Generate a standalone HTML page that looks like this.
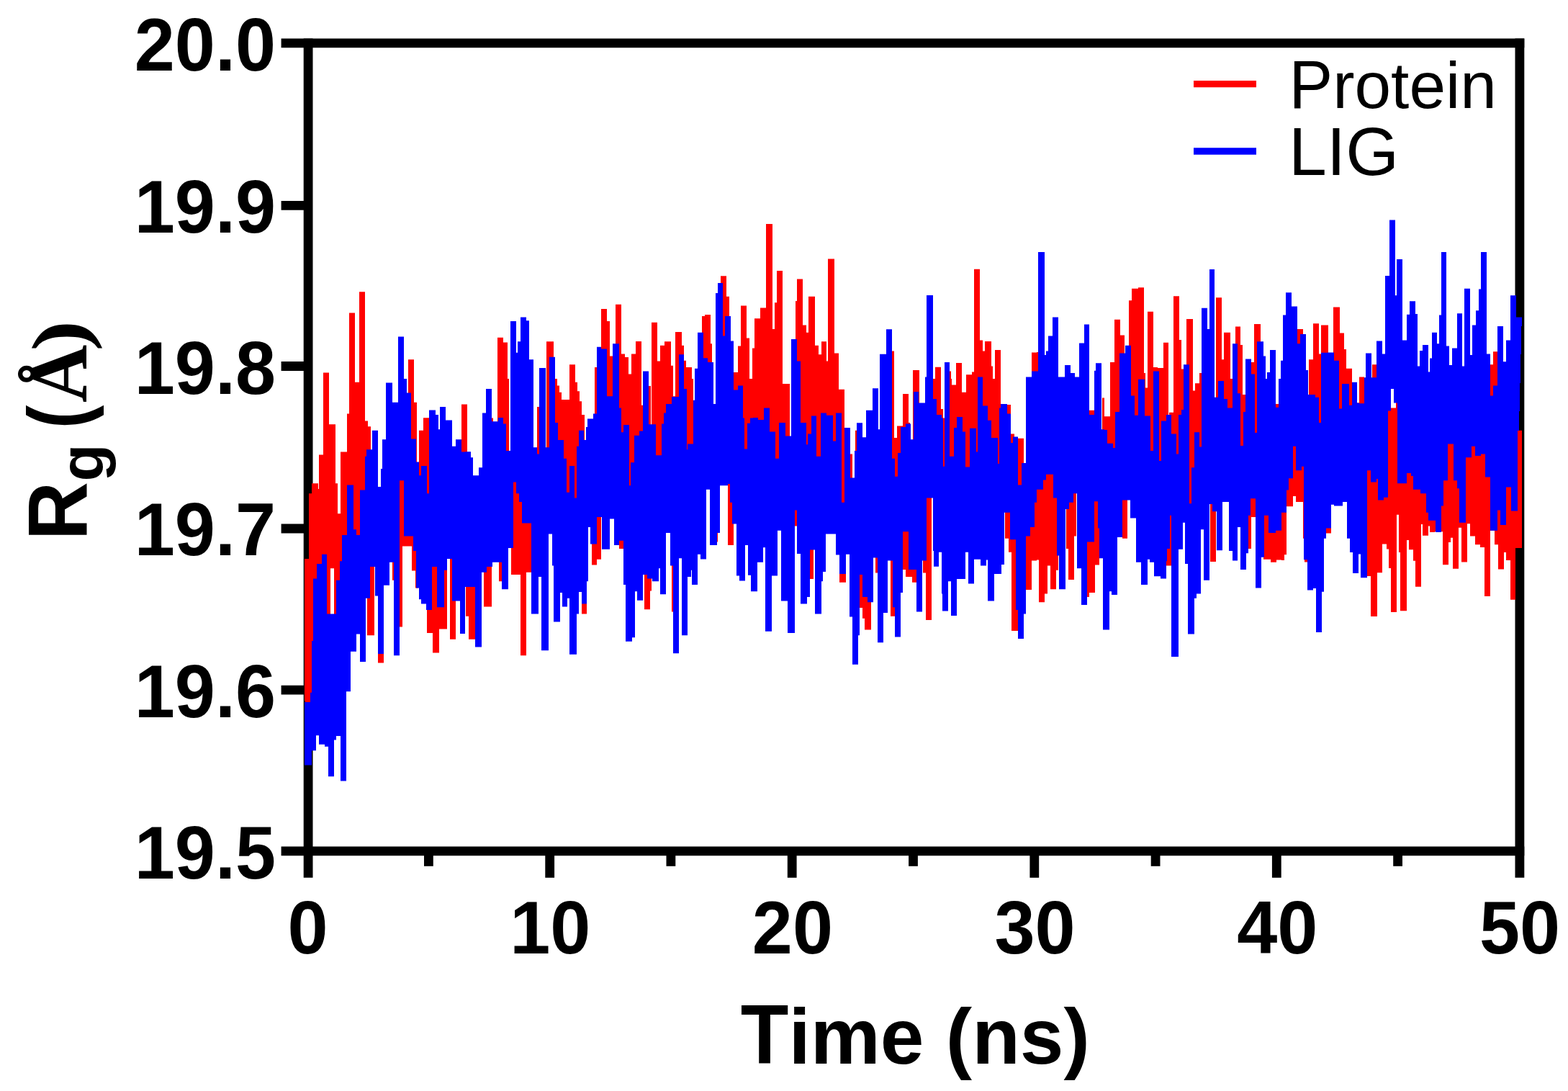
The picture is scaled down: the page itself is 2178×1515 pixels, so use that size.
<!DOCTYPE html>
<html lang="en">
<head>
<meta charset="utf-8">
<title>Rg (Å) / Time (ns)</title>
<style>
html,body{margin:0;padding:0;background:#fff;}
body{width:2178px;height:1515px;overflow:hidden;}
svg{display:block;}
text{font-family:"Liberation Sans",sans-serif;fill:#000;}
.tick{font-weight:bold;font-size:103px;}
.title{font-weight:bold;font-size:110px;}
.leg{font-size:91px;}
.leg2{font-size:95px;}
.ang{font-family:"Liberation Serif",serif;font-weight:bold;}
</style>
</head>
<body>
<svg width="2178" height="1515" viewBox="0 0 2178 1515">
<rect x="0" y="0" width="2178" height="1515" fill="#fff"/>

<g stroke="#000" stroke-width="12.8" fill="none" stroke-linecap="butt">
<line x1="390.6" y1="59.9" x2="2117.3" y2="59.9"/>
<line x1="390.6" y1="1181.8" x2="2117.3" y2="1181.8"/>
<line x1="428.1" y1="53.5" x2="428.1" y2="1218.8"/>
<line x1="2110.9" y1="53.5" x2="2110.9" y2="1218.8"/>
<line x1="390.6" y1="958.2" x2="428.1" y2="958.2"/>
<line x1="390.6" y1="734.0" x2="428.1" y2="734.0"/>
<line x1="390.6" y1="508.5" x2="428.1" y2="508.5"/>
<line x1="390.6" y1="285.3" x2="428.1" y2="285.3"/>
<line x1="763.7" y1="1181.8" x2="763.7" y2="1218.8"/>
<line x1="1100.2" y1="1181.8" x2="1100.2" y2="1218.8"/>
<line x1="1436.8" y1="1181.8" x2="1436.8" y2="1218.8"/>
<line x1="1773.3" y1="1181.8" x2="1773.3" y2="1218.8"/>
<line x1="595.4" y1="1181.8" x2="595.4" y2="1202.8"/>
<line x1="931.9" y1="1181.8" x2="931.9" y2="1202.8"/>
<line x1="1268.5" y1="1181.8" x2="1268.5" y2="1202.8"/>
<line x1="1605.1" y1="1181.8" x2="1605.1" y2="1202.8"/>
<line x1="1941.6" y1="1181.8" x2="1941.6" y2="1202.8"/>
</g>
<text class="tick" transform="translate(383.0,98.0) scale(0.979,1)" text-anchor="end">20.0</text>
<text class="tick" transform="translate(383.0,322.5) scale(0.979,1)" text-anchor="end">19.9</text>
<text class="tick" transform="translate(383.0,547.0) scale(0.979,1)" text-anchor="end">19.8</text>
<text class="tick" transform="translate(383.0,771.4) scale(0.979,1)" text-anchor="end">19.7</text>
<text class="tick" transform="translate(383.0,995.9) scale(0.979,1)" text-anchor="end">19.6</text>
<text class="tick" transform="translate(383.0,1220.4) scale(0.979,1)" text-anchor="end">19.5</text>
<text class="tick" transform="translate(427.5,1323.8) scale(0.979,1)" text-anchor="middle">0</text>
<text class="tick" transform="translate(764.2,1323.8) scale(0.979,1)" text-anchor="middle">10</text>
<text class="tick" transform="translate(1100.9,1323.8) scale(0.979,1)" text-anchor="middle">20</text>
<text class="tick" transform="translate(1437.6,1323.8) scale(0.979,1)" text-anchor="middle">30</text>
<text class="tick" transform="translate(1774.3,1323.8) scale(0.979,1)" text-anchor="middle">40</text>
<text class="tick" transform="translate(2111.0,1323.8) scale(0.979,1)" text-anchor="middle">50</text>
<text class="title" transform="translate(1271.3,1477) scale(0.992,1)" text-anchor="middle"><tspan font-size="116.5" textLength="67.2" lengthAdjust="spacingAndGlyphs">T</tspan>ime (ns)</text>
<text id="ytitle" class="title" transform="rotate(-90)"><tspan font-size="117.19" x="-750.25" y="120.95" textLength="81.38" lengthAdjust="spacingAndGlyphs">R</tspan><tspan font-size="85.0" x="-668.55" y="143.0" textLength="51.8" lengthAdjust="spacingAndGlyphs">g</tspan><tspan> </tspan><tspan font-size="114.1" x="-595.1" y="120.2" textLength="32.24" lengthAdjust="spacingAndGlyphs">(</tspan><tspan class="ang" font-size="114.35" x="-559.0" y="120.2" textLength="80.25" lengthAdjust="spacingAndGlyphs">Å</tspan><tspan class="ang" font-size="107.11" x="-487.45" y="118.7" textLength="42.52" lengthAdjust="spacingAndGlyphs">)</tspan></text>
<g id="traces">
<path d="M423 776 L429 776 L429 685.2 L433 685.2 L433 671.2 L442 671.2 L442 679 L443 679 L443 631.4 L449 631.4 L449 517.6 L457 517.6 L457 589.2 L466 589.2 L466 671.2 L469 671.2 L469 713.3 L473 713.3 L473 627.5 L482 627.5 L482 574.4 L485 574.4 L485 434.4 L493 434.4 L493 530.7 L499 530.7 L499 405.2 L507 405.2 L507 584.5 L511 584.5 L511 592.3 L515 592.3 L515 705.7 L517 705.7 L517 692.4 L520 692.4 L520 882.2 L510 882.2 L510 727.5 L509 727.5 L509 732.2 L508 732.2 L508 776.3 L507 776.3 L507 799.7 L500 799.7 L500 811.8 L495 811.8 L495 820 L491 820 L491 789.2 L487 789.2 L487 816.9 L482 816.9 L482 851.6 L481 851.6 L481 913.7 L475 913.7 L475 931.8 L473 931.8 L473 900.6 L472 900.6 L472 913.8 L467 913.8 L467 940 L464 940 L464 789.3 L459 789.3 L459 965.3 L456 965.3 L456 944.7 L454 944.7 L454 903.3 L451 903.3 L451 901.7 L447 901.7 L447 908.4 L443 908.4 L443 902.1 L440 902.1 L440 912.3 L439 912.3 L439 922.8 L435 922.8 L435 966.1 L433 966.1 L433 1012.2 L431 1012.2 L431 975.1 L424 975.1 L424 973.6 L423 973.6ZM525 791.9 L529 791.9 L529 779.4 L531 779.4 L531 759.1 L533 759.1 L533 920.4 L525 920.4ZM545 669.8 L547 669.8 L547 805.7 L545 805.7ZM555 567.4 L561 567.4 L561 635.3 L565 635.3 L565 645 L567 645 L567 499.2 L575 499.2 L575 558.8 L579 558.8 L579 729.1 L581 729.1 L581 816.6 L577 816.6 L577 792.4 L572 792.4 L572 758.6 L559 758.6 L559 870.5 L555 870.5ZM582 597.8 L588 597.8 L588 580.3 L596 580.3 L596 708.2 L600 708.2 L600 678.2 L605 678.2 L605 681.5 L607 681.5 L607 709.6 L609 709.6 L609 719.7 L611 719.7 L611 704.1 L617 704.1 L617 678.3 L619 678.3 L619 687.6 L621 687.6 L621 873.6 L610 873.6 L610 906.4 L601 906.4 L601 879.1 L593 879.1 L593 747 L592 747 L592 742.7 L585 742.7 L585 746.2 L582 746.2ZM625 679.7 L628 679.7 L628 727.1 L633 727.1 L633 887.7 L625 887.7ZM641 561.6 L649 561.6 L649 721.1 L654 721.1 L654 725.2 L657 725.2 L657 737.7 L660 737.7 L660 887.7 L651 887.7 L651 855.7 L647 855.7 L647 721.1 L646 721.1 L646 753.7 L641 753.7ZM672 684.2 L675 684.2 L675 667.4 L676 667.4 L676 663.5 L683 663.5 L683 580.6 L685 580.6 L685 683 L684 683 L684 686.1 L683 686.1 L683 842.4 L672 842.4ZM691 468.7 L699 468.7 L699 475.5 L705 475.5 L705 526 L707 526 L707 693.4 L706 693.4 L706 722.1 L703 722.1 L703 703.3 L699 703.3 L699 699 L697 699 L697 807.3 L693 807.3 L693 680.3 L692 680.3 L692 683 L691 683ZM710 603.5 L713 603.5 L713 557.9 L717 557.9 L717 587.5 L719 587.5 L719 579.7 L721 579.7 L721 585.6 L723 585.6 L723 568.8 L725 568.8 L725 583.6 L731 583.6 L731 586 L735 586 L735 612.9 L738 612.9 L738 794.8 L731 794.8 L731 910.3 L723 910.3 L723 797.9 L710 797.9ZM746 565 L749 565 L749 715.8 L748 715.8 L748 741.6 L746 741.6ZM759 474.2 L769 474.2 L769 526 L774 526 L774 535.4 L777 535.4 L777 544.7 L780 544.7 L780 554.9 L791 554.9 L791 506.2 L799 506.2 L799 530.7 L802 530.7 L802 543.2 L805 543.2 L805 557.2 L808 557.2 L808 576 L812 576 L812 724.8 L814 724.8 L814 715.8 L815 715.8 L815 852.5 L808 852.5 L808 710 L804 710 L804 736.1 L801 736.1 L801 800.1 L798 800.1 L798 777.9 L791 777.9 L791 757.2 L788 757.2 L788 763 L787 763 L787 739.6 L783 739.6 L783 726.7 L781 726.7 L781 717 L778 717 L778 737.3 L775 737.3 L775 725.2 L771 725.2 L771 679.6 L769 679.6 L769 640.6 L767 640.6 L767 618.6 L763 618.6 L763 681.3 L762 681.3 L762 762.3 L759 762.3ZM822 668.4 L824 668.4 L824 664.9 L826 664.9 L826 510.1 L829 510.1 L829 599.9 L835 599.9 L835 428.9 L843 428.9 L843 446.1 L847 446.1 L847 494.5 L851 494.5 L851 635.3 L847 635.3 L847 656.5 L843 656.5 L843 623.6 L836 623.6 L836 601.2 L835 601.2 L835 776.8 L829 776.8 L829 784.6 L822 784.6ZM855 422.7 L863 422.7 L863 491.4 L868 491.4 L868 496.1 L873 496.1 L873 519.5 L877 519.5 L877 491.4 L883 491.4 L883 473.9 L891 473.9 L891 562.7 L893 562.7 L893 716.2 L888 716.2 L888 719.3 L885 719.3 L885 713.1 L882 713.1 L882 745.1 L881 745.1 L881 763.8 L878 763.8 L878 766.5 L876 766.5 L876 782.5 L874 782.5 L874 740.4 L869 740.4 L869 701 L866 701 L866 762 L860 762 L860 617.2 L855 617.2ZM895 656.7 L899 656.7 L899 659.5 L901 659.5 L901 536.1 L904 536.1 L904 696.3 L905 696.3 L905 447.7 L913 447.7 L913 501.5 L917 501.5 L917 479.7 L923 479.7 L923 474.2 L932 474.2 L932 507.8 L935 507.8 L935 550.2 L938 550.2 L938 460.9 L947 460.9 L947 479.7 L950 479.7 L950 500.7 L953 500.7 L953 510.1 L961 510.1 L961 526 L963 526 L963 714.2 L961 714.2 L961 704.1 L960 704.1 L960 708.8 L955 708.8 L955 753.3 L954 753.3 L954 711.1 L950 711.1 L950 687.2 L947 687.2 L947 633.7 L943 633.7 L943 729.1 L935 729.1 L935 849.4 L933 849.4 L933 673.3 L931 673.3 L931 650.5 L925 650.5 L925 699.4 L922 699.4 L922 706.8 L919 706.8 L919 728.7 L917 728.7 L917 710.7 L915 710.7 L915 719.7 L911 719.7 L911 698.2 L906 698.2 L906 696.3 L905 696.3 L905 820.5 L903 820.5 L903 846.3 L895 846.3ZM975 439.1 L979 439.1 L979 437.1 L987 437.1 L987 477.3 L989 477.3 L989 630.1 L986 630.1 L986 591.4 L983 591.4 L983 588.5 L981 588.5 L981 636.8 L977 636.8 L977 619 L975 619ZM995 582.1 L996 582.1 L996 573.5 L997 573.5 L997 752.4 L995 752.4ZM1001 383.2 L1009 383.2 L1009 411.8 L1013 411.8 L1013 555.5 L1014 555.5 L1014 568.4 L1015 568.4 L1015 585.6 L1017 585.6 L1017 600.4 L1019 600.4 L1019 517.1 L1025 517.1 L1025 480.4 L1029 480.4 L1029 424.6 L1037 424.6 L1037 469.5 L1041 469.5 L1041 526 L1045 526 L1045 483.6 L1048 483.6 L1048 442.2 L1056 442.2 L1056 427.4 L1064 427.4 L1064 311.1 L1073 311.1 L1073 457 L1076 457 L1076 420.3 L1079 420.3 L1079 375.9 L1087 375.9 L1087 533 L1097 533 L1097 742.3 L1094 742.3 L1094 720.1 L1091 720.1 L1091 710.7 L1085 710.7 L1085 661.8 L1082 661.8 L1082 686.8 L1080 686.8 L1080 718.2 L1077 718.2 L1077 699.4 L1072 699.4 L1072 738.1 L1069 738.1 L1069 721.7 L1063 721.7 L1063 663.4 L1061 663.4 L1061 671.6 L1060 671.6 L1060 681.9 L1053 681.9 L1053 680.3 L1052 680.3 L1052 700.6 L1046 700.6 L1046 701 L1043 701 L1043 689.7 L1042 689.7 L1042 693.2 L1039 693.2 L1039 672.3 L1038 672.3 L1038 690.3 L1035 690.3 L1035 715 L1034 715 L1034 693.6 L1032 693.6 L1032 670.9 L1027 670.9 L1027 667.4 L1025 667.4 L1025 670.5 L1023 670.5 L1023 634.5 L1019 634.5 L1019 757 L1011 757 L1011 556.7 L1007 556.7 L1007 570.4 L1004 570.4 L1004 533.7 L1001 533.7ZM1104 589.9 L1105 589.9 L1105 418 L1107 418 L1107 387.6 L1115 387.6 L1115 451.6 L1120 451.6 L1120 461.7 L1123 461.7 L1123 411.8 L1132 411.8 L1132 479.7 L1137 479.7 L1137 492.2 L1141 492.2 L1141 474.2 L1148 474.2 L1148 501.5 L1150 501.5 L1150 359.5 L1159 359.5 L1159 490.6 L1165 490.6 L1165 540.8 L1173 540.8 L1173 695.5 L1175 695.5 L1175 808.8 L1166 808.8 L1166 672.1 L1161 672.1 L1161 677 L1157 677 L1157 659.1 L1148 659.1 L1148 657.5 L1147 657.5 L1147 683.8 L1143 683.8 L1143 690.4 L1141 690.4 L1141 713.1 L1140 713.1 L1140 743.1 L1134 743.1 L1134 715 L1132 715 L1132 670.5 L1130 670.5 L1130 804.1 L1125 804.1 L1125 715.8 L1122 715.8 L1122 723.2 L1121 723.2 L1121 727.9 L1120 727.9 L1120 712.7 L1112 712.7 L1112 635.3 L1107 635.3 L1107 730.5 L1104 730.5ZM1181 630.6 L1184 630.6 L1184 759.9 L1181 759.9ZM1188 597.8 L1190 597.8 L1190 774.3 L1188 774.3ZM1194 692.5 L1198 692.5 L1198 718.2 L1203 718.2 L1203 699.4 L1205 699.4 L1205 702.9 L1210 702.9 L1210 874.4 L1201 874.4 L1201 858.8 L1198 858.8 L1198 844 L1194 844ZM1216 656.9 L1219 656.9 L1219 795.6 L1216 795.6ZM1237 617.9 L1239 617.9 L1239 487.5 L1242 487.5 L1242 608 L1246 608 L1246 591.6 L1254 591.6 L1254 547.1 L1262 547.1 L1262 586.9 L1264 586.9 L1264 689.7 L1265 689.7 L1265 700.6 L1268 700.6 L1268 514 L1277 514 L1277 704.5 L1276 704.5 L1276 696.7 L1273 696.7 L1273 808.8 L1267 808.8 L1267 801 L1258 801 L1258 790.9 L1254 790.9 L1254 708 L1251 708 L1251 756.8 L1247 756.8 L1247 773.2 L1243 773.2 L1243 855.7 L1237 855.7ZM1282 669 L1285 669 L1285 650.9 L1287 650.9 L1287 550.7 L1294 550.7 L1294 861.1 L1286 861.1 L1286 795.6 L1282 795.6ZM1296 526 L1299 526 L1299 509.8 L1307 509.8 L1307 568.1 L1310 568.1 L1310 580.6 L1312 580.6 L1312 748.2 L1310 748.2 L1310 714.6 L1309 714.6 L1309 702.5 L1308 702.5 L1308 671.3 L1304 671.3 L1304 681.3 L1301 681.3 L1301 670.4 L1297 670.4 L1297 659.6 L1296 659.6ZM1319 515.6 L1321 515.6 L1321 526 L1322 526 L1322 534.6 L1328 534.6 L1328 503.9 L1336 503.9 L1336 544.7 L1342 544.7 L1342 520.3 L1350 520.3 L1350 516.4 L1353 516.4 L1353 373.8 L1361 373.8 L1361 472.6 L1365 472.6 L1365 487.5 L1368 487.5 L1368 473.9 L1377 473.9 L1377 508.5 L1379 508.5 L1379 526 L1382 526 L1382 485.9 L1390 485.9 L1390 681.9 L1388 681.9 L1388 720.5 L1386 720.5 L1386 702.5 L1381 702.5 L1381 721.3 L1377 721.3 L1377 709.2 L1372 709.2 L1372 670.5 L1370 670.5 L1370 674.4 L1365 674.4 L1365 654.4 L1362 654.4 L1362 650.1 L1358 650.1 L1358 702.1 L1356 702.1 L1356 685.8 L1353 685.8 L1353 702.5 L1347 702.5 L1347 729.5 L1345 729.5 L1345 707.6 L1341 707.6 L1341 701.8 L1337 701.8 L1337 691.6 L1329 691.6 L1329 724.4 L1325 724.4 L1325 744.3 L1321 744.3 L1321 720.5 L1319 720.5ZM1396 636.4 L1398 636.4 L1398 561.9 L1404 561.9 L1404 602.5 L1409 602.5 L1409 677.8 L1411 677.8 L1411 726.7 L1414 726.7 L1414 608.7 L1422 608.7 L1422 765 L1419 765 L1419 780.2 L1414 780.2 L1414 876 L1405 876 L1405 766.7 L1401 766.7 L1401 747.7 L1396 747.7ZM1425 634 L1431 634 L1431 627.7 L1433 627.7 L1433 489.5 L1440 489.5 L1440 489 L1442 489 L1442 514.9 L1449 514.9 L1449 508.3 L1451 508.3 L1451 579.7 L1453 579.7 L1453 573.1 L1456 573.1 L1456 562.5 L1462 562.5 L1462 549.7 L1463 549.7 L1463 566.1 L1468 566.1 L1468 606 L1470 606 L1470 791.7 L1467 791.7 L1467 818.2 L1459 818.2 L1459 785.4 L1455 785.4 L1455 824.4 L1451 824.4 L1451 836.2 L1443 836.2 L1443 777.6 L1440 777.6 L1440 778.4 L1433 778.4 L1433 819 L1425 819ZM1481 607 L1485 607 L1485 602.4 L1487 602.4 L1487 607.8 L1491 607.8 L1491 601.6 L1493 601.6 L1493 604.3 L1495 604.3 L1495 744.5 L1492 744.5 L1492 804.9 L1484 804.9 L1484 762 L1481 762ZM1510 601.4 L1513 601.4 L1513 569.7 L1520 569.7 L1520 605.5 L1522 605.5 L1522 600.2 L1525 600.2 L1525 618.9 L1527 618.9 L1527 784.6 L1521 784.6 L1521 822.9 L1513 822.9 L1513 829.1 L1510 829.1ZM1531 552.5 L1534 552.5 L1534 578.3 L1542 578.3 L1542 503.1 L1548 503.1 L1548 443.8 L1556 443.8 L1556 465.6 L1562 465.6 L1562 592.6 L1563 592.6 L1563 587.1 L1566 587.1 L1566 747.7 L1559 747.7 L1559 618.4 L1555 618.4 L1555 659.1 L1552 659.1 L1552 699 L1549 699 L1549 724 L1546 724 L1546 720.9 L1544 720.9 L1544 718.5 L1541 718.5 L1541 745.1 L1538 745.1 L1538 735.7 L1534 735.7 L1534 735.3 L1532 735.3 L1532 685.8 L1531 685.8ZM1568 417.2 L1572 417.2 L1572 400.8 L1581 400.8 L1581 399.3 L1589 399.3 L1589 517.9 L1591 517.9 L1591 538.5 L1594 538.5 L1594 432.8 L1602 432.8 L1602 510.1 L1608 510.1 L1608 510.9 L1616 510.9 L1616 475.8 L1623 475.8 L1623 669 L1624 669 L1624 572.8 L1630 572.8 L1630 411.3 L1638 411.3 L1638 471.9 L1641 471.9 L1641 512.5 L1644 512.5 L1644 647.4 L1643 647.4 L1643 665.9 L1641 665.9 L1641 669.4 L1637 669.4 L1637 771.2 L1634 771.2 L1634 757.2 L1627 757.2 L1627 785.4 L1620 785.4 L1620 694 L1613 694 L1613 721.7 L1612 721.7 L1612 720.1 L1610 720.1 L1610 657.9 L1603 657.9 L1603 648.2 L1602 648.2 L1602 703.3 L1598 703.3 L1598 679.1 L1597 679.1 L1597 677.2 L1594 677.2 L1594 694.7 L1590 694.7 L1590 669.4 L1585 669.4 L1585 653.8 L1581 653.8 L1581 678.7 L1578 678.7 L1578 648.2 L1576 648.2 L1576 634.5 L1571 634.5 L1571 599.6 L1570 599.6 L1570 587.1 L1568 587.1ZM1648 443 L1657 443 L1657 542.4 L1660 542.4 L1660 532.2 L1666 532.2 L1666 517.9 L1669 517.9 L1669 677.8 L1668 677.8 L1668 722.4 L1666 722.4 L1666 712.3 L1662 712.3 L1662 715.4 L1659 715.4 L1659 765 L1655 765 L1655 790 L1652 790 L1652 693.4 L1650 693.4 L1650 644.6 L1648 644.6ZM1677 457 L1680 457 L1680 631.4 L1677 631.4ZM1681 537 L1684 537 L1684 542.1 L1687 542.1 L1687 631 L1689 631 L1689 413.3 L1697 413.3 L1697 499.2 L1700 499.2 L1700 461.7 L1709 461.7 L1709 526 L1712 526 L1712 665.9 L1707 665.9 L1707 631.8 L1705 631.8 L1705 625.5 L1700 625.5 L1700 613 L1698 613 L1698 646.7 L1692 646.7 L1692 658 L1690 658 L1690 631 L1689 631 L1689 780 L1681 780ZM1716 453.6 L1723 453.6 L1723 478.9 L1726 478.9 L1726 547.9 L1730 547.9 L1730 681.5 L1727 681.5 L1727 704.9 L1723 704.9 L1723 639.2 L1719 639.2 L1719 627.9 L1716 627.9ZM1734 607 L1737 607 L1737 595.3 L1738 595.3 L1738 503.1 L1742 503.1 L1742 450 L1751 450 L1751 645.4 L1746 645.4 L1746 708.8 L1744 708.8 L1744 718 L1738 718 L1738 762 L1734 762ZM1755 634.1 L1756 634.1 L1756 605.1 L1758 605.1 L1758 620.8 L1760 620.8 L1760 616.4 L1762 616.4 L1762 628.5 L1764 628.5 L1764 612.9 L1772 612.9 L1772 561.1 L1776 561.1 L1776 631.4 L1779 631.4 L1779 618.7 L1780 618.7 L1780 606.3 L1782 606.3 L1782 574.6 L1786 574.6 L1786 559 L1787 559 L1787 543.4 L1790 543.4 L1790 535.2 L1794 535.2 L1794 544.8 L1796 544.8 L1796 522.6 L1800 522.6 L1800 539.4 L1802 539.4 L1802 457 L1810 457 L1810 555.9 L1811 555.9 L1811 620.7 L1814 620.7 L1814 645.6 L1816 645.6 L1816 780.4 L1812 780.4 L1812 747.7 L1810 747.7 L1810 696.9 L1800 696.9 L1800 689.1 L1796 689.1 L1796 703.2 L1787 703.2 L1787 770.2 L1784 770.2 L1784 778.1 L1780 778.1 L1780 777.6 L1773 777.6 L1773 780.7 L1765 780.7 L1765 776.8 L1755 776.8ZM1818 499.2 L1824 499.2 L1824 449.2 L1832 449.2 L1832 491.4 L1835 491.4 L1835 451.6 L1845 451.6 L1845 611.6 L1849 611.6 L1849 740.6 L1842 740.6 L1842 618.7 L1839 618.7 L1839 655.8 L1836 655.8 L1836 683.9 L1835 683.9 L1835 732.4 L1832 732.4 L1832 714.9 L1828 714.9 L1828 684.4 L1827 684.4 L1827 682.5 L1824 682.5 L1824 683.6 L1818 683.6ZM1852 426.6 L1861 426.6 L1861 462.5 L1867 462.5 L1867 485.1 L1870 485.1 L1870 511.7 L1878 511.7 L1878 664.9 L1875 664.9 L1875 655.2 L1874 655.2 L1874 640.3 L1871 640.3 L1871 615 L1865 615 L1865 617.7 L1864 617.7 L1864 634.9 L1860 634.9 L1860 601.6 L1853 601.6 L1853 595.2 L1852 595.2ZM1885 559.6 L1888 559.6 L1888 523.4 L1895 523.4 L1895 681.3 L1890 681.3 L1890 664.9 L1888 664.9 L1888 664.5 L1887 664.5 L1887 677.8 L1885 677.8ZM1899 571.9 L1904 571.9 L1904 580.1 L1905 580.1 L1905 596.9 L1906 596.9 L1906 506.2 L1912 506.2 L1912 569.2 L1914 569.2 L1914 584 L1920 584 L1920 593 L1922 593 L1922 591 L1924 591 L1924 536.8 L1928 536.8 L1928 476.7 L1930 476.7 L1930 566.6 L1939 566.6 L1939 484.9 L1940 484.9 L1940 459.7 L1941 459.7 L1941 515.6 L1948 515.6 L1948 571.9 L1954 571.9 L1954 546.9 L1958 546.9 L1958 537.7 L1960 537.7 L1960 539.7 L1963 539.7 L1963 549 L1966 549 L1966 557.9 L1969 557.9 L1969 510.9 L1972 510.9 L1972 583.4 L1973 583.4 L1973 586.1 L1976 586.1 L1976 582.1 L1981 582.1 L1981 595.3 L1984 595.3 L1984 619.5 L1986 619.5 L1986 610.2 L1989 610.2 L1989 592.2 L1994 592.2 L1994 600.4 L1996 600.4 L1996 608.2 L1999 608.2 L1999 588.3 L2002 588.3 L2002 526.3 L2005 526.3 L2005 508.7 L2009 508.7 L2009 573.9 L2011 573.9 L2011 548.5 L2013 548.5 L2013 561.8 L2017 561.8 L2017 550.1 L2019 550.1 L2019 575.4 L2024 575.4 L2024 556.7 L2027 556.7 L2027 580.5 L2031 580.5 L2031 510.1 L2034 510.1 L2034 563.3 L2036 563.3 L2036 518.1 L2042 518.1 L2042 564.1 L2044 564.1 L2044 556.3 L2045 556.3 L2045 535.6 L2049 535.6 L2049 542.3 L2050 542.3 L2050 532.1 L2054 532.1 L2054 517.3 L2057 517.3 L2057 490.3 L2063 490.3 L2063 506.3 L2065 506.3 L2065 577 L2070 577 L2070 506.2 L2074 506.2 L2074 488.3 L2080 488.3 L2080 580.9 L2084 580.9 L2084 591 L2088 591 L2088 615.6 L2092 615.6 L2092 574.6 L2098 574.6 L2098 543.4 L2099 543.4 L2099 559.8 L2106 559.8 L2106 575 L2108 575 L2108 597.8 L2114 597.8 L2114 760.9 L2105 760.9 L2105 832.7 L2098 832.7 L2098 778.1 L2092 778.1 L2092 767.1 L2089 767.1 L2089 790.5 L2081 790.5 L2081 756.2 L2076 756.2 L2076 736.7 L2070 736.7 L2070 828 L2062 828 L2062 760.1 L2056 760.1 L2056 756.2 L2049 756.2 L2049 744.5 L2042 744.5 L2042 727.3 L2038 727.3 L2038 780.4 L2030 780.4 L2030 732.8 L2026 732.8 L2026 789.8 L2018 789.8 L2018 746.8 L2015 746.8 L2015 753.1 L2012 753.1 L2012 784.3 L2004 784.3 L2004 738.2 L1993 738.2 L1993 739 L1986 739 L1986 730.4 L1984 730.4 L1984 743.7 L1976 743.7 L1976 728.1 L1974 728.1 L1974 814.7 L1966 814.7 L1966 778.8 L1963 778.8 L1963 763.2 L1957 763.2 L1957 750 L1954 750 L1954 848.3 L1945 848.3 L1945 767.1 L1943 767.1 L1943 714.8 L1940 714.8 L1940 849.9 L1932 849.9 L1932 789 L1929 789 L1929 762.4 L1926 762.4 L1926 755.4 L1920 755.4 L1920 795.2 L1913 795.2 L1913 856.1 L1904 856.1 L1904 799.9 L1899 799.9Z" fill="#ff0000"/>
<path d="M423 975.1 L431 975.1 L431 961.8 L433 961.8 L433 890 L435 890 L435 803.4 L440 803.4 L440 783.1 L447 783.1 L447 769.8 L454 769.8 L454 852.5 L467 852.5 L467 805.7 L472 805.7 L472 779.2 L475 779.2 L475 743 L482 743 L482 673.5 L491 673.5 L491 735.2 L495 735.2 L495 743 L500 743 L500 680.5 L507 680.5 L507 633.7 L509 633.7 L509 624.3 L517 624.3 L517 597.8 L525 597.8 L525 675.9 L529 675.9 L529 650.9 L531 650.9 L531 610.3 L536 610.3 L536 531.5 L545 531.5 L545 558.8 L553 558.8 L553 467.5 L561 467.5 L561 526 L565 526 L565 545.5 L571 545.5 L571 609.5 L578 609.5 L578 641.5 L582 641.5 L582 660.3 L585 660.3 L585 647 L593 647 L593 685.2 L596 685.2 L596 569.4 L605 569.4 L605 576 L609 576 L609 596.2 L611 596.2 L611 565 L619 565 L619 583.4 L628 583.4 L628 619.7 L633 619.7 L633 610.3 L641 610.3 L641 627.5 L646 627.5 L646 627.2 L654 627.2 L654 635.3 L657 635.3 L657 660.3 L665 660.3 L665 649.3 L670 649.3 L670 573.6 L675 573.6 L675 540 L683 540 L683 585.3 L692 585.3 L692 579.9 L699 579.9 L699 588.4 L703 588.4 L703 625.9 L709 625.9 L709 446.1 L717 446.1 L717 489.8 L719 489.8 L719 474.2 L723 474.2 L723 440.6 L731 440.6 L731 445.3 L735 445.3 L735 499.2 L741 499.2 L741 621.2 L746 621.2 L746 630.6 L749 630.6 L749 510.9 L758 510.9 L758 621.2 L763 621.2 L763 495.7 L771 495.7 L771 586.9 L775 586.9 L775 611.1 L783 611.1 L783 636.8 L787 636.8 L787 683.7 L791 683.7 L791 647 L798 647 L798 691.5 L801 691.5 L801 619.7 L804 619.7 L804 597.8 L811 597.8 L811 611.1 L814 611.1 L814 593.1 L816 593.1 L816 581.4 L824 581.4 L824 574.4 L829 574.4 L829 481.7 L835 481.7 L835 484.4 L843 484.4 L843 550.2 L851 550.2 L851 477.3 L860 477.3 L860 566.6 L863 566.6 L863 600.2 L866 600.2 L866 590 L874 590 L874 674.3 L876 674.3 L876 642.3 L881 642.3 L881 604.8 L888 604.8 L888 598.6 L893 598.6 L893 515.6 L901 515.6 L901 589.2 L911 589.2 L911 632.2 L919 632.2 L919 588.4 L922 588.4 L922 573.6 L925 573.6 L925 561.1 L933 561.1 L933 551 L943 551 L943 492.2 L950 492.2 L950 540 L954 540 L954 624.3 L955 624.3 L955 616.5 L963 616.5 L963 555.7 L965 555.7 L965 511.7 L969 511.7 L969 461.7 L977 461.7 L977 497.3 L983 497.3 L983 503.1 L991 503.1 L991 561.1 L994 561.1 L994 407.1 L997 407.1 L997 393 L1004 393 L1004 466.4 L1007 466.4 L1007 439.1 L1015 439.1 L1015 473.4 L1019 473.4 L1019 541.6 L1025 541.6 L1025 535.4 L1032 535.4 L1032 580.6 L1034 580.6 L1034 623.6 L1038 623.6 L1038 587.7 L1042 587.7 L1042 580.6 L1046 580.6 L1046 579.9 L1053 579.9 L1053 583 L1061 583 L1061 566.6 L1069 566.6 L1069 599.4 L1077 599.4 L1077 636.8 L1082 636.8 L1082 586.9 L1091 586.9 L1091 605.6 L1099 605.6 L1099 471.1 L1107 471.1 L1107 501.5 L1112 501.5 L1112 586.9 L1120 586.9 L1120 617.3 L1122 617.3 L1122 602.5 L1127 602.5 L1127 577.5 L1134 577.5 L1134 633.7 L1140 633.7 L1140 573.6 L1148 573.6 L1148 576.7 L1157 576.7 L1157 612.6 L1161 612.6 L1161 573.6 L1169 573.6 L1169 697.7 L1173 697.7 L1173 593.9 L1181 593.9 L1181 663.4 L1187 663.4 L1187 625.9 L1190 625.9 L1190 587.2 L1198 587.2 L1198 607.2 L1203 607.2 L1203 569.7 L1212 569.7 L1212 539.3 L1220 539.3 L1220 596.2 L1222 596.2 L1222 491.8 L1231 491.8 L1231 457.3 L1239 457.3 L1239 636.8 L1243 636.8 L1243 661.8 L1247 661.8 L1247 629 L1251 629 L1251 593.1 L1258 593.1 L1258 588.4 L1265 588.4 L1265 610.3 L1269 610.3 L1269 544 L1276 544 L1276 559.6 L1285 559.6 L1285 523.4 L1287 523.4 L1287 409.9 L1296 409.9 L1296 554.1 L1301 554.1 L1301 576 L1308 576 L1308 580.6 L1310 580.6 L1310 647.8 L1312 647.8 L1312 503.1 L1319 503.1 L1319 633.7 L1325 633.7 L1325 593.9 L1329 593.9 L1329 579.1 L1337 579.1 L1337 599.4 L1341 599.4 L1341 648.5 L1347 648.5 L1347 594.7 L1356 594.7 L1356 627.5 L1358 627.5 L1358 523.4 L1365 523.4 L1365 563.5 L1372 563.5 L1372 583.8 L1377 583.8 L1377 608 L1386 608 L1386 643.9 L1388 643.9 L1388 566.6 L1390 566.6 L1390 561.1 L1399 561.1 L1399 574.4 L1404 574.4 L1404 615 L1407 615 L1407 606.4 L1414 606.4 L1414 673.5 L1419 673.5 L1419 643.1 L1425 643.1 L1425 523.4 L1433 523.4 L1433 515.6 L1442 515.6 L1442 350.1 L1451 350.1 L1451 492.9 L1453 492.9 L1453 487.5 L1456 487.5 L1456 466.4 L1462 466.4 L1462 440.6 L1470 440.6 L1470 523.4 L1479 523.4 L1479 507 L1487 507 L1487 517.9 L1493 517.9 L1493 523.4 L1499 523.4 L1499 476.5 L1506 476.5 L1506 450.5 L1513 450.5 L1513 576 L1520 576 L1520 514.8 L1522 514.8 L1522 504.2 L1530 504.2 L1530 596.2 L1534 596.2 L1534 597 L1538 597 L1538 615.8 L1546 615.8 L1546 622 L1549 622 L1549 572.1 L1555 572.1 L1555 490.6 L1563 490.6 L1563 479.7 L1571 479.7 L1571 549.4 L1576 549.4 L1576 576.7 L1581 576.7 L1581 526.8 L1590 526.8 L1590 577.5 L1598 577.5 L1598 625.9 L1602 625.9 L1602 515.6 L1610 515.6 L1610 640 L1613 640 L1613 584.5 L1620 584.5 L1620 576 L1627 576 L1627 602.5 L1634 602.5 L1634 630.6 L1637 630.6 L1637 576 L1641 576 L1641 568.9 L1644 568.9 L1644 506.2 L1652 506.2 L1652 699.3 L1655 699.3 L1655 649.3 L1659 649.3 L1659 600.2 L1666 600.2 L1666 620.4 L1669 620.4 L1669 427.7 L1677 427.7 L1677 457 L1680 457 L1680 374 L1687 374 L1687 551.8 L1692 551.8 L1692 529.1 L1700 529.1 L1700 554.1 L1705 554.1 L1705 566.6 L1712 566.6 L1712 477.3 L1719 477.3 L1719 546.3 L1723 546.3 L1723 618.9 L1727 618.9 L1727 572.1 L1730 572.1 L1730 498.4 L1738 498.4 L1738 519.5 L1743 519.5 L1743 600.9 L1746 600.9 L1746 474.2 L1755 474.2 L1755 494.5 L1758 494.5 L1758 526 L1760 526 L1760 517.1 L1764 517.1 L1764 485.9 L1772 485.9 L1772 565.8 L1776 565.8 L1776 526 L1779 526 L1779 500.7 L1782 500.7 L1782 437.5 L1786 437.5 L1786 406.3 L1794 406.3 L1794 425.5 L1802 425.5 L1802 477.3 L1806 477.3 L1806 464.1 L1814 464.1 L1814 514 L1817 514 L1817 547.9 L1827 547.9 L1827 551.8 L1832 551.8 L1832 586.9 L1835 586.9 L1835 489.8 L1844 489.8 L1844 489.5 L1853 489.5 L1853 500.7 L1860 500.7 L1860 567.4 L1864 567.4 L1864 533 L1874 533 L1874 562.7 L1878 562.7 L1878 530.7 L1885 530.7 L1885 559.6 L1888 559.6 L1888 560.3 L1895 560.3 L1895 524.2 L1897 524.2 L1897 490.6 L1905 490.6 L1905 524.2 L1912 524.2 L1912 473.4 L1920 473.4 L1920 491.4 L1924 491.4 L1924 382.9 L1930 382.9 L1930 305.6 L1938 305.6 L1938 410.2 L1940 410.2 L1940 359.9 L1948 359.9 L1948 472.6 L1954 472.6 L1954 436.7 L1958 436.7 L1958 418.3 L1966 418.3 L1966 436 L1969 436 L1969 508.5 L1972 508.5 L1972 487 L1976 487 L1976 478.9 L1984 478.9 L1984 516.4 L1986 516.4 L1986 497.6 L1989 497.6 L1989 461.7 L1996 461.7 L1996 477.3 L1999 477.3 L1999 437.5 L2002 437.5 L2002 350.1 L2009 350.1 L2009 480.4 L2013 480.4 L2013 507 L2017 507 L2017 483.6 L2024 483.6 L2024 435.2 L2031 435.2 L2031 508.5 L2034 508.5 L2034 400.8 L2042 400.8 L2042 492.9 L2045 492.9 L2045 451.6 L2050 451.6 L2050 431.3 L2054 431.3 L2054 401.6 L2057 401.6 L2057 350.1 L2065 350.1 L2065 491.4 L2070 491.4 L2070 549.4 L2074 549.4 L2074 535.4 L2080 535.4 L2080 453.1 L2088 453.1 L2088 502.3 L2092 502.3 L2092 472.6 L2098 472.6 L2098 410.2 L2106 410.2 L2106 440.6 L2114 440.6 L2114 453 L2113 453 L2113 492 L2112 492 L2112 531.9 L2111 531.9 L2111 571 L2110 571 L2110 598 L2108 598 L2108 709.4 L2099 709.4 L2099 676.6 L2092 676.6 L2092 728.9 L2084 728.9 L2084 708.6 L2080 708.6 L2080 736.7 L2070 736.7 L2070 662.6 L2063 662.6 L2063 630.6 L2057 630.6 L2057 632.9 L2049 632.9 L2049 619.7 L2044 619.7 L2044 635.3 L2036 635.3 L2036 725.8 L2027 725.8 L2027 678.2 L2024 678.2 L2024 667.3 L2019 667.3 L2019 616.5 L2011 616.5 L2011 667.3 L2005 667.3 L2005 702.4 L2002 702.4 L2002 739.1 L1994 739.1 L1994 722.7 L1984 722.7 L1984 711.8 L1981 711.8 L1981 685.2 L1973 685.2 L1973 679.8 L1963 679.8 L1963 661 L1960 661 L1960 657.1 L1954 657.1 L1954 671.2 L1941 671.2 L1941 559.6 L1936 559.6 L1936 540 L1932 540 L1932 570.5 L1928 570.5 L1928 690.7 L1922 690.7 L1922 694.6 L1914 694.6 L1914 664.9 L1912 664.9 L1912 669.6 L1904 669.6 L1904 653.2 L1899 653.2 L1899 802.2 L1890 802.2 L1890 769.5 L1887 769.5 L1887 796 L1879 796 L1879 767.1 L1875 767.1 L1875 747.7 L1871 747.7 L1871 696.9 L1865 696.9 L1865 702.4 L1853 702.4 L1853 700.8 L1849 700.8 L1849 733.6 L1842 733.6 L1842 747.7 L1839 747.7 L1839 821.8 L1836 821.8 L1836 878 L1828 878 L1828 817.1 L1824 817.1 L1824 819.4 L1816 819.4 L1816 777.3 L1811 777.3 L1811 647.8 L1808 647.8 L1808 653.2 L1800 653.2 L1800 619.7 L1796 619.7 L1796 664.2 L1790 664.2 L1790 680.5 L1787 680.5 L1787 711.8 L1780 711.8 L1780 736.7 L1772 736.7 L1772 739.9 L1762 739.9 L1762 715.7 L1756 715.7 L1756 773.7 L1752 773.7 L1752 816.6 L1744 816.6 L1744 692.3 L1737 692.3 L1737 715.7 L1734 715.7 L1734 768.2 L1731 768.2 L1731 790.9 L1723 790.9 L1723 732.1 L1719 732.1 L1719 778.4 L1712 778.4 L1712 765.1 L1707 765.1 L1707 696.9 L1698 696.9 L1698 764.3 L1690 764.3 L1690 710.2 L1684 710.2 L1684 700.1 L1680 700.1 L1680 805.7 L1672 805.7 L1672 735.2 L1668 735.2 L1668 824.4 L1662 824.4 L1662 830.7 L1659 830.7 L1659 880.6 L1650 880.6 L1650 783.1 L1646 783.1 L1646 725.8 L1643 725.8 L1643 762.8 L1637 762.8 L1637 911.9 L1627 911.9 L1627 715.7 L1625 715.7 L1625 762 L1621 762 L1621 779.2 L1620 779.2 L1620 803.4 L1612 803.4 L1612 800.2 L1603 800.2 L1603 780.7 L1597 780.7 L1597 776.8 L1594 776.8 L1594 812 L1585 812 L1585 780.7 L1578 780.7 L1578 719.6 L1570 719.6 L1570 694.6 L1559 694.6 L1559 746.1 L1552 746.1 L1552 826 L1544 826 L1544 821.3 L1541 821.3 L1541 874.4 L1532 874.4 L1532 775.3 L1527 775.3 L1527 733.6 L1525 733.6 L1525 696.2 L1520 696.2 L1520 752.4 L1510 752.4 L1510 840.1 L1502 840.1 L1502 789.3 L1496 789.3 L1496 685.2 L1491 685.2 L1491 697.7 L1485 697.7 L1485 707.1 L1480 707.1 L1480 818.2 L1471 818.2 L1471 771.4 L1468 771.4 L1468 691.5 L1463 691.5 L1463 658.7 L1453 658.7 L1453 666.5 L1449 666.5 L1449 679.8 L1440 679.8 L1440 697.7 L1437 697.7 L1437 732.1 L1431 732.1 L1431 744.5 L1425 744.5 L1425 852.5 L1422 852.5 L1422 886.9 L1414 886.9 L1414 847.1 L1411 847.1 L1411 749.2 L1403 749.2 L1403 711.8 L1395 711.8 L1395 783.9 L1391 783.9 L1391 797.1 L1381 797.1 L1381 834.6 L1372 834.6 L1372 777.6 L1370 777.6 L1370 785.4 L1362 785.4 L1362 776.8 L1353 776.8 L1353 810.4 L1345 810.4 L1345 766.7 L1341 766.7 L1341 804.1 L1329 804.1 L1329 854.9 L1321 854.9 L1321 807.3 L1317 807.3 L1317 848.6 L1309 848.6 L1309 824.4 L1308 824.4 L1308 766.7 L1304 766.7 L1304 786.7 L1297 786.7 L1297 765.1 L1296 765.1 L1296 691.5 L1287 691.5 L1287 778.4 L1281 778.4 L1281 849.4 L1273 849.4 L1273 790.9 L1262 790.9 L1262 738.3 L1254 738.3 L1254 822.9 L1251 822.9 L1251 884.5 L1243 884.5 L1243 843.2 L1240 843.2 L1240 778.4 L1233 778.4 L1233 851 L1227 851 L1227 892.3 L1219 892.3 L1219 774.5 L1213 774.5 L1213 836.2 L1205 836.2 L1205 829.1 L1198 829.1 L1198 797.9 L1194 797.9 L1194 882.2 L1192 882.2 L1192 922.8 L1184 922.8 L1184 856.4 L1180 856.4 L1180 769.8 L1175 769.8 L1175 797.1 L1166 797.1 L1166 770.6 L1161 770.6 L1161 741.4 L1147 741.4 L1147 794 L1143 794 L1143 807.3 L1141 807.3 L1141 852.5 L1132 852.5 L1132 763.6 L1125 763.6 L1125 829.1 L1121 829.1 L1121 838.5 L1112 838.5 L1112 769 L1107 769 L1107 708.6 L1104 708.6 L1104 879.1 L1094 879.1 L1094 834.6 L1085 834.6 L1085 736.7 L1080 736.7 L1080 799.5 L1072 799.5 L1072 876.7 L1063 876.7 L1063 760.2 L1060 760.2 L1060 780.7 L1052 780.7 L1052 821.3 L1043 821.3 L1043 798.7 L1039 798.7 L1039 757 L1035 757 L1035 806.5 L1027 806.5 L1027 799.5 L1023 799.5 L1023 727.4 L1017 727.4 L1017 697.7 L1014 697.7 L1014 672 L1011 672 L1011 674.3 L1000 674.3 L1000 739.9 L996 739.9 L996 757 L986 757 L986 679.8 L981 679.8 L981 776.4 L973 776.4 L973 769.8 L969 769.8 L969 812 L961 812 L961 791.7 L960 791.7 L960 801 L955 801 L955 882.2 L947 882.2 L947 775.3 L943 775.3 L943 907.2 L935 907.2 L935 785.4 L931 785.4 L931 739.9 L925 739.9 L925 825.2 L917 825.2 L917 789.3 L915 789.3 L915 807.3 L906 807.3 L906 803.4 L899 803.4 L899 797.9 L893 797.9 L893 833.8 L885 833.8 L885 821.3 L882 821.3 L882 885.3 L878 885.3 L878 890.8 L869 890.8 L869 812 L866 812 L866 750.8 L860 750.8 L860 757 L853 757 L853 720.4 L847 720.4 L847 762.8 L836 762.8 L836 718 L829 718 L829 755.5 L820 755.5 L820 732.1 L817 732.1 L817 807.3 L815 807.3 L815 838.5 L808 838.5 L808 822.1 L804 822.1 L804 852.5 L801 852.5 L801 908.7 L791 908.7 L791 830.7 L788 830.7 L788 842.4 L781 842.4 L781 822.9 L778 822.9 L778 863.5 L769 863.5 L769 785.4 L767 785.4 L767 741.4 L762 741.4 L762 903.3 L752 903.3 L752 801 L748 801 L748 852.5 L738 852.5 L738 726.6 L725 726.6 L725 696.9 L721 696.9 L721 685.2 L717 685.2 L717 669.6 L713 669.6 L713 760.9 L706 760.9 L706 818.2 L697 818.2 L697 780.7 L684 780.7 L684 787 L676 787 L676 794.8 L669 794.8 L669 898.6 L660 898.6 L660 815.1 L646 815.1 L646 879.9 L639 879.9 L639 834.6 L628 834.6 L628 776 L621 776 L621 791.7 L617 791.7 L617 843.2 L607 843.2 L607 787 L600 787 L600 847.1 L592 847.1 L592 838.5 L585 838.5 L585 832.2 L582 832.2 L582 816.6 L578 816.6 L578 765.1 L574 765.1 L574 744.5 L561 744.5 L561 667.3 L555 667.3 L555 910.3 L547 910.3 L547 780.7 L541 780.7 L541 812.7 L533 812.7 L533 908 L525 908 L525 827.6 L521 827.6 L521 787 L514 787 L514 830.7 L508 830.7 L508 918.9 L500 918.9 L500 880.6 L495 880.6 L495 904.8 L487 904.8 L487 960.3 L481 960.3 L481 1084.4 L473 1084.4 L473 1022 L467 1022 L467 1027.4 L464 1027.4 L464 1078.2 L456 1078.2 L456 1036.8 L451 1036.8 L451 1033.7 L443 1033.7 L443 1021.2 L439 1021.2 L439 1042.2 L433 1042.2 L433 1062.5 L423 1062.5Z" fill="#0000ff"/>
</g>
<line x1="1658" y1="116.6" x2="1745" y2="116.6" stroke="#ff0000" stroke-width="9.4"/>
<line x1="1658" y1="210" x2="1745" y2="210" stroke="#0000ff" stroke-width="9.4"/>
<text class="leg" x="1790.5" y="149.8"><tspan font-size="95.2" textLength="60.7" lengthAdjust="spacingAndGlyphs">P</tspan>rotein</text>
<text class="leg2" x="1790" y="243.4">LIG</text>
</svg>
</body>
</html>
